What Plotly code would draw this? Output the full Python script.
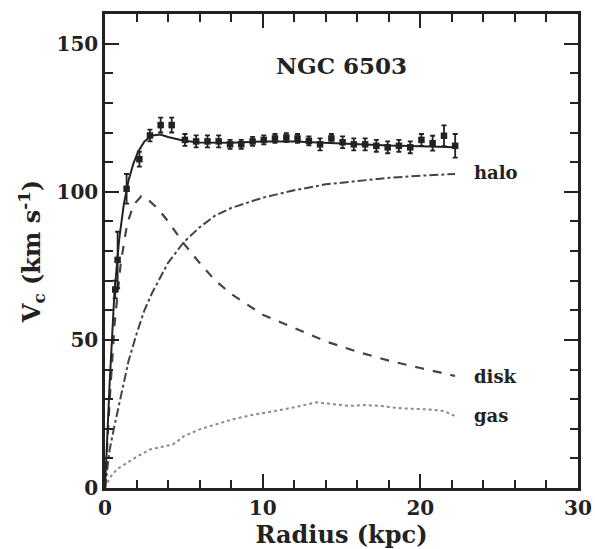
import plotly.graph_objects as go

# Observed rotation curve
obs_r = [0.65, 0.80, 1.37, 2.18, 2.85, 3.53, 4.23,
         5.07, 5.78, 6.50, 7.21, 7.93, 8.64, 9.36, 10.07, 10.78, 11.50, 12.21, 12.93,
         13.64, 14.36, 15.07, 15.78, 16.50, 17.21, 17.93, 18.64, 19.36, 20.07, 20.78,
         21.50, 22.21]
obs_v = [67, 77, 101, 111, 119, 122.5, 122.5,
         117.5, 117, 117, 117, 116, 116, 117, 117.5, 118, 118.3, 118, 117.2,
         116, 118, 116.7, 116, 116, 115.5, 115, 115.5, 115, 117.5, 116.4,
         118.9, 115.5]
obs_err = [3, 9.5, 5, 2.5, 2, 2.5, 2.5,
           2, 2, 2, 2, 1.5, 1.5, 1.5, 1.5, 1.5, 1.5, 1.5, 1.5,
           2, 1.5, 2, 2, 2, 2, 2, 2, 2, 2, 2.5,
           3.5, 4]

# Total model fit
fit_r = [0, 0.3, 0.6, 0.9, 1.2, 1.5, 1.8, 2.1, 2.5, 3.0, 3.5, 4.0, 5, 6, 8, 10, 12, 14, 16, 18, 20, 22.2]
fit_v = [0, 36, 66, 84, 96, 104, 109.5, 113.5, 117, 119, 119.3, 118.5, 117.2, 116.6, 116.5, 117, 117, 116.5, 116, 115.6, 115.4, 115]

# Halo component
halo_r = [0, 0.3, 0.6, 1.0, 1.5, 2.0, 2.5, 3, 4, 5, 6, 7, 8, 10, 12, 14, 16, 18, 20, 22.2]
halo_v = [0, 13, 21, 31, 43, 52, 60, 66, 76, 83, 88, 92, 94.5, 98, 100.5, 102.5, 103.7, 104.7, 105.4, 106]

# Disk component
disk_r = [0, 0.3, 0.6, 1.0, 1.4, 1.8, 2.3, 2.8, 3.4, 4, 5, 6, 7, 8, 10, 12, 14, 16, 18, 20, 22.2]
disk_v = [0, 30, 55, 76, 89, 95.5, 98.5, 97, 94, 90, 82.5, 76, 70, 65.5, 58.5, 54, 49.5, 46, 43, 40.5, 37.8]

# Gas component
gas_r = [0, 0.3, 0.8, 1.4, 2.0, 2.85, 3.6, 4.3, 4.6, 5.0, 6.0, 7.0, 8.1, 9.2, 10.3, 11.3, 12.4, 13.4,
         14.5, 15.5, 16.5, 17.5, 18.5, 19.5, 20.5, 21.5, 22.2]
gas_v = [0, 3.5, 6.5, 8.5, 10.5, 13, 14, 14.7, 15.8, 17.5, 19.8, 21.5, 23.2, 24.5, 25.5, 26.5, 27.7, 28.9,
         28.3, 27.7, 28, 27.7, 27, 26.8, 26.5, 26, 24.3]

labels = ["halo", "disk", "gas"]
label_v = [106.5, 37.5, 24.5]

ink = "#222222"
serif = "DejaVu Serif"

fig = go.Figure()
fig.add_trace(go.Scatter(x=gas_r, y=gas_v, mode="lines",
                         line=dict(color="#8a8a8a", width=2, dash="dot"), showlegend=False))
fig.add_trace(go.Scatter(x=halo_r, y=halo_v, mode="lines",
                         line=dict(color="#444444", width=2, dash="dashdot"), showlegend=False))
fig.add_trace(go.Scatter(x=disk_r, y=disk_v, mode="lines",
                         line=dict(color="#444444", width=2.2, dash="dash"), showlegend=False))
fig.add_trace(go.Scatter(x=fit_r, y=fit_v, mode="lines",
                         line=dict(color=ink, width=2), showlegend=False))
fig.add_trace(go.Scatter(x=obs_r, y=obs_v, mode="markers",
                         marker=dict(color=ink, size=6.5, symbol="square"),
                         error_y=dict(type="data", array=obs_err, color=ink, thickness=1.8, width=2.5),
                         showlegend=False))

for lab, lv in zip(labels, label_v):
    fig.add_annotation(x=23.3, y=lv, text="<b>" + lab + "</b>", showarrow=False, xanchor="left",
                       font=dict(family=serif, size=18, color=ink))

fig.add_annotation(x=15, y=142.5, text="<b>NGC 6503</b>", showarrow=False,
                   font=dict(family=serif, size=23, color=ink))

axis_common = dict(
    showgrid=False, zeroline=False, showline=True, linecolor=ink, linewidth=2.5,
    mirror="allticks", ticks="inside", tickcolor=ink, tickwidth=2, automargin=False,
    tickfont=dict(family=serif, size=20, color=ink, weight="bold"),
)

fig.update_xaxes(range=[0, 30], tickvals=[0, 10, 20, 30], ticklen=14,
                 minor=dict(dtick=2, ticks="inside", ticklen=8, tickcolor=ink, tickwidth=1.8),
                 title=dict(text="<b>Radius (kpc)</b>", font=dict(family=serif, size=24, color=ink), standoff=3),
                 **axis_common)
fig.update_yaxes(range=[0, 160], tickvals=[0, 50, 100, 150], ticklen=14,
                 minor=dict(dtick=10, ticks="inside", ticklen=8, tickcolor=ink, tickwidth=1.8),
                 title=dict(text="<b>V<sub>c</sub> (km s<sup>-1</sup>)</b>",
                            font=dict(family=serif, size=24, color=ink), standoff=10),
                 **axis_common)

fig.update_layout(width=595, height=549, margin=dict(l=105, r=17, t=14, b=61),
                  paper_bgcolor="white", plot_bgcolor="white")

# remove the default page margin so the figure fills the window exactly
fig.write_html("out.html", config={"displayModeBar": False},
               post_script="document.body.style.margin='0';document.body.style.overflow='hidden';")
